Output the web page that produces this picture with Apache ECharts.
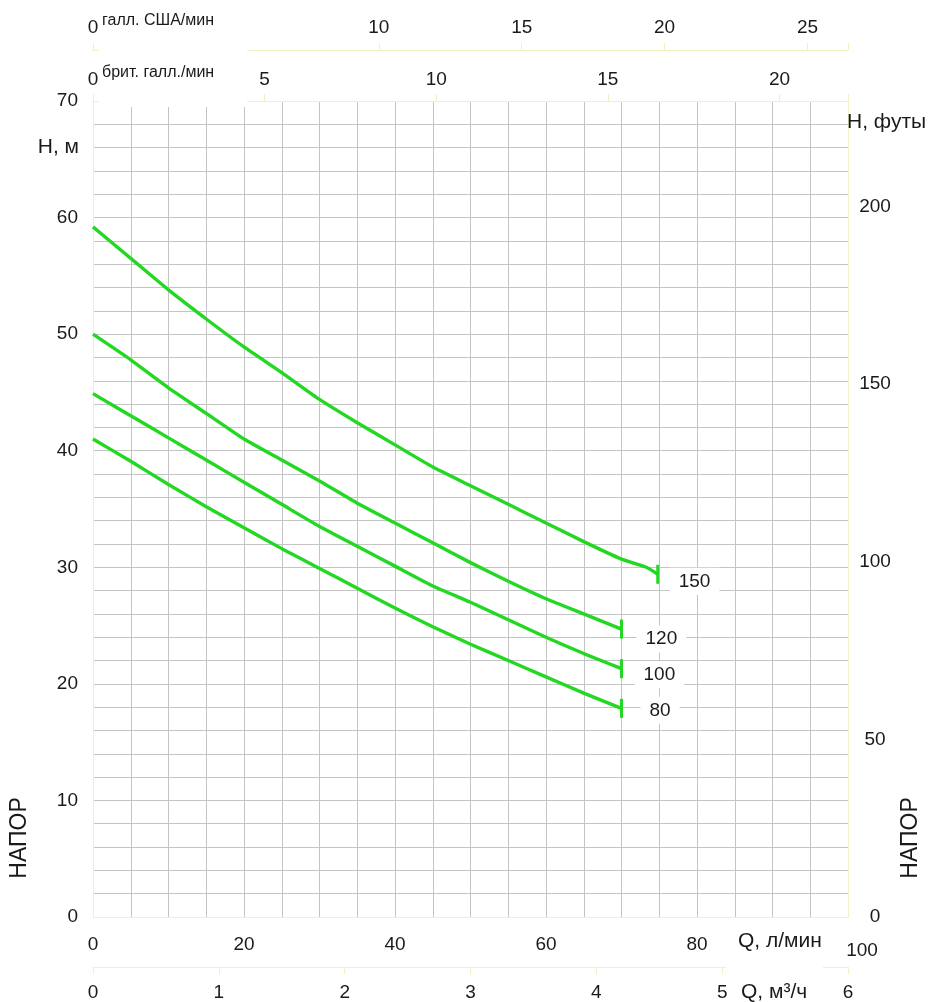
<!DOCTYPE html>
<html><head><meta charset="utf-8">
<script src="https://cdn.jsdelivr.net/npm/echarts@6/dist/echarts.min.js"></script>
<style>html,body{margin:0;padding:0;background:#fff}#c{width:931px;height:1002px}</style>
</head><body><div id="c"></div>
<script>
// ---- data ----
const qStd = [0,5,10,15,20,25,30,35,40,45,50,55,60,65,70];          // Q, l/min
const h120 = [50.0,47.8,45.4,43.2,41.0,39.2,37.4,35.5,33.8,32.1,30.4,28.8,27.3,26.0,24.7];
const h100 = [44.9,43.0,41.1,39.2,37.3,35.4,33.5,31.8,30.1,28.4,27.0,25.5,24.0,22.6,21.3];
const h80  = [41.0,39.1,37.1,35.2,33.4,31.6,29.9,28.2,26.5,24.9,23.4,22.0,20.6,19.2,17.9];
const q150 = [0,5,10,15,20,25,30,35,40,45,50,55,60,65,70,73.3,74.8];
const h150 = [59.2,56.5,53.8,51.3,48.9,46.7,44.4,42.4,40.5,38.6,37.0,35.4,33.8,32.2,30.7,30.0,29.4];
const curveNames = ['150','120','100','80'];
const unitUS = 'галл. США/мин';
const unitUK = 'брит. галл./мин';
const unitHm = 'H, м';
const unitHft = 'H, футы';
const unitQ = 'Q, л/мин';
const unitQm3 = 'Q, м³/ч';
const headWord = 'НАПОР';

// ---- conversions ----
const L_PER_USGAL = 3.78541, L_PER_UKGAL = 4.54609, FT_PER_M = 3.28084;
const Q_MAX = 100, H_MAX = 70;

const FONT = '"Liberation Sans", Arial, sans-serif';
const TXT = '#1a1a1a';
const PALE = '#f1f1c2';
const GRIDC = '#c4c4c4';
const GREEN = '#22d822';

function pairs(q, h){ return q.map((v,i)=>[v,h[i]]); }

const curves = [
  {name:curveNames[0], q:q150, h:h150, off:[12,7]},
  {name:curveNames[1], q:qStd, h:h120, off:[15,10]},
  {name:curveNames[2], q:qStd, h:h100, off:[13,6]},
  {name:curveNames[3], q:qStd, h:h80,  off:[19,2]}
];

const chart = echarts.init(document.getElementById('c'), null, {renderer:'canvas'});
const baseLabel = {color:TXT, fontFamily:FONT, fontSize:19};

const option = {
  animation:false,
  backgroundColor:'#fff',
  grid:{left:93, right:83, top:101, bottom:84, containLabel:false},
  xAxis:[
    {type:'value', min:0, max:Q_MAX, interval:5, position:'bottom',
     axisLine:{show:true, lineStyle:{color:PALE}}, axisTick:{show:false},
     axisLabel:Object.assign({}, baseLabel, {margin:18,
        formatter:v=> v%20===0 ? (v===100 ? '{r|100}' : String(v)) : '',
        rich:{r:{fontSize:19, fontFamily:FONT, color:TXT, padding:[6,0,0,28]}}}),
     splitLine:{show:true, showMinLine:false, showMaxLine:false, lineStyle:{color:GRIDC, width:1}}},
    {type:'value', min:0, max:Q_MAX*60/1000, interval:1, position:'bottom', offset:50,
     axisLine:{show:true, onZero:false, lineStyle:{color:PALE}},
     axisTick:{show:true, length:7, lineStyle:{color:PALE}},
     axisLabel:Object.assign({}, baseLabel, {margin:16, formatter:v=> Math.abs(v-Math.round(v))<1e-6 ? String(Math.round(v)) : ''}),
     splitLine:{show:false}},
    {type:'value', min:0, max:Q_MAX/L_PER_USGAL, interval:5, position:'top', offset:51,
     axisLine:{show:true, onZero:false, lineStyle:{color:PALE}},
     axisTick:{show:true, length:7, lineStyle:{color:PALE}},
     axisLabel:Object.assign({}, baseLabel, {margin:13, formatter:v=> v%5===0 ? String(v) : ''}),
     splitLine:{show:false}},
    {type:'value', min:0, max:Q_MAX/L_PER_UKGAL, interval:5, position:'top', offset:0,
     axisLine:{show:true, onZero:false, lineStyle:{color:PALE}},
     axisTick:{show:true, length:7, lineStyle:{color:PALE}},
     axisLabel:Object.assign({}, baseLabel, {margin:12, formatter:v=> v%5===0 ? String(v) : ''}),
     splitLine:{show:false}}
  ],
  yAxis:[
    {type:'value', min:0, max:H_MAX, interval:2, position:'left',
     axisLine:{show:true, onZero:false, lineStyle:{color:PALE}},
     axisTick:{show:false},
     axisLabel:Object.assign({}, baseLabel, {margin:15, formatter:v=> v%10===0 ? String(v) : ''}),
     splitLine:{show:true, showMinLine:false, showMaxLine:false, lineStyle:{color:GRIDC, width:1}}},
    {type:'value', min:0, max:H_MAX*FT_PER_M, interval:50, position:'right',
     axisLine:{show:true, onZero:false, lineStyle:{color:PALE}},
     axisTick:{show:false},
     axisLabel:Object.assign({}, baseLabel, {margin:27, align:'center', formatter:v=> v%50===0 ? String(v) : ''}),
     splitLine:{show:false}}
  ],
  series: curves.map(c=>({
    type:'line', name:c.name, xAxisIndex:0, yAxisIndex:0,
    data:pairs(c.q, c.h), symbol:'none', smooth:0.15,
    lineStyle:{color:GREEN, width:3.4},
    endLabel:{show:true, formatter:c.name, distance:0, offset:c.off,
      color:TXT, fontFamily:FONT, fontSize:19, backgroundColor:'#fff', padding:[4,9]},
    markPoint:{silent:true, symbol:'rect', symbolSize:[3,19],
      itemStyle:{color:GREEN}, label:{show:false},
      data:[{coord:[c.q[c.q.length-1], c.h[c.h.length-1]]}]},
    z:3
  })),
  graphic:[
    {type:'rect', shape:{x:99, y:0, width:148, height:107}, style:{fill:'#fff'}, z:100},
    {type:'rect', shape:{x:726, y:958, width:97, height:20}, style:{fill:'#fff'}, z:100},
    {type:'text', x:102, y:21, z:101, style:{text:unitUS, fill:TXT, fontFamily:FONT, fontSize:16, align:'left', verticalAlign:'middle'}},
    {type:'text', x:102, y:73, z:101, style:{text:unitUK, fill:TXT, fontFamily:FONT, fontSize:16, align:'left', verticalAlign:'middle'}},
    {type:'text', x:79, y:147, z:101, style:{text:unitHm, fill:TXT, fontFamily:FONT, fontSize:21, align:'right', verticalAlign:'middle'}},
    {type:'text', x:847, y:122, z:101, style:{text:unitHft, fill:TXT, fontFamily:FONT, fontSize:21, align:'left', verticalAlign:'middle'}},
    {type:'text', x:738, y:941, z:101, style:{text:unitQ, fill:TXT, fontFamily:FONT, fontSize:21, align:'left', verticalAlign:'middle'}},
    {type:'text', x:741, y:992, z:101, style:{text:unitQm3, fill:TXT, fontFamily:FONT, fontSize:21, align:'left', verticalAlign:'middle'}},
    {type:'text', x:20, y:838, rotation:Math.PI/2, z:101, style:{text:headWord, fill:TXT, fontFamily:FONT, fontSize:23, align:'center', verticalAlign:'middle'}},
    {type:'text', x:911, y:838, rotation:Math.PI/2, z:101, style:{text:headWord, fill:TXT, fontFamily:FONT, fontSize:23, align:'center', verticalAlign:'middle'}}
  ]
};
chart.setOption(option);
</script></body></html>
